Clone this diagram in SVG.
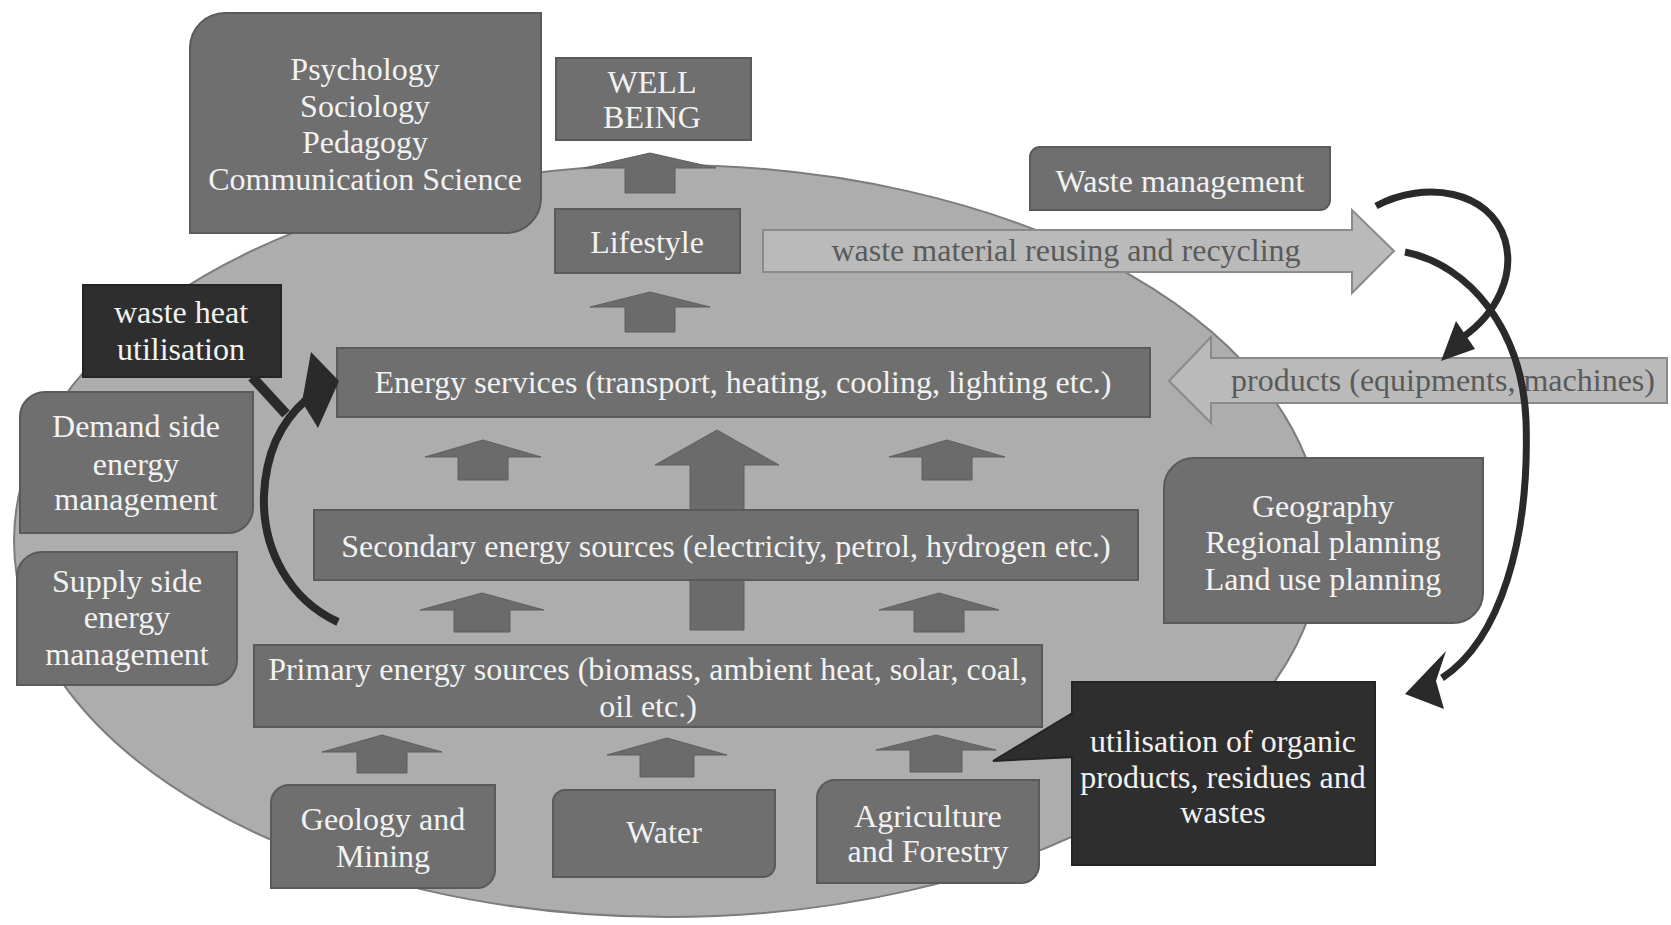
<svg xmlns="http://www.w3.org/2000/svg" width="1671" height="925" viewBox="0 0 1671 925">
<style>
.box{fill:#6f6f6f;stroke:#5a5a5a;stroke-width:2}
.dark{fill:#2e2e2e;stroke:#242424;stroke-width:2}
.blk{fill:#6b6b6b;stroke:#5f5f5f;stroke-width:1}
.light{fill:#bababa;stroke:#8a8a8a;stroke-width:2}
.t{font-family:"Liberation Serif","Times New Roman",serif;font-size:32px;fill:#f2f2f2;text-anchor:middle}
.td{fill:#5a5a5a}
.cv{fill:none;stroke:#2a2a2a;stroke-linecap:butt}
.hd{fill:#2a2a2a}
</style>
<rect width="1671" height="925" fill="#ffffff"/>
<ellipse id="context" cx="668" cy="541" rx="654" ry="376" fill="#adadad" stroke="#7c7c7c" stroke-width="2"/>

<g id="flow-arrows">
<polygon class="blk" points="650,153 716,168 675,168 675,193 625,193 625,168 584,168"/>
<polygon class="blk" points="650,292 710,307 675,307 675,332 625,332 625,307 590,307"/>
<polygon class="blk" points="483,440 541,457 508,457 508,480 458,480 458,457 425,457"/>
<polygon class="blk" points="717,430 779,465 744,465 744,630 690,630 690,465 655,465"/>
<polygon class="blk" points="947,440 1005,457 972,457 972,480 922,480 922,457 889,457"/>
<polygon class="blk" points="482,593 544,610 510,610 510,632 454,632 454,610 420,610"/>
<polygon class="blk" points="939,593 999,610 964,610 964,632 914,632 914,610 879,610"/>
<polygon class="blk" points="382,735 442,752 407,752 407,773 357,773 357,752 322,752"/>
<polygon class="blk" points="667,738 727,755 694,755 694,777 640,777 640,755 607,755"/>
<polygon class="blk" points="936,735 996,750 962,750 962,772 910,772 910,750 876,750"/>
</g>

<g id="psychology">
<path class="box" d="M225,13 H541 V198 A35,35 0 0 1 506,233 H190 V48 A35,35 0 0 1 225,13 Z"/>
<text class="t" x="365" y="80">Psychology</text>
<text class="t" x="365" y="117">Sociology</text>
<text class="t" x="365" y="153">Pedagogy</text>
<text class="t" x="365" y="190">Communication Science</text>
</g>

<g id="wellbeing">
<rect class="box" x="556" y="58" width="195" height="82"/>
<text class="t" x="652" y="93">WELL</text>
<text class="t" x="652" y="128">BEING</text>
</g>

<g id="lifestyle">
<rect class="box" x="555" y="209" width="185" height="64"/>
<text class="t" x="647" y="253">Lifestyle</text>
</g>

<g id="waste-management">
<path class="box" d="M1040,147 H1330 V200 A10,10 0 0 1 1320,210 H1030 V157 A10,10 0 0 1 1040,147 Z"/>
<text class="t" x="1180" y="192">Waste management</text>
</g>

<g id="waste-material">
<polygon class="light" points="763,230 1352,230 1352,210 1394,251 1352,293 1352,272 763,272"/>
<text class="t td" x="1066" y="261">waste material reusing and recycling</text>
</g>

<g id="products">
<polygon class="light" points="1169,381 1211,337 1211,358 1667,358 1667,403 1211,403 1211,423"/>
<text class="t td" x="1443" y="391">products (equipments, machines)</text>
</g>

<g id="waste-heat">
<rect class="dark" x="83" y="285" width="198" height="92"/>
<text class="t" x="181" y="323">waste heat</text>
<text class="t" x="181" y="360">utilisation</text>
</g>

<g id="demand-side">
<path class="box" d="M45,392 H253 V508 A25,25 0 0 1 228,533 H20 V417 A25,25 0 0 1 45,392 Z"/>
<text class="t" x="136" y="437">Demand side</text>
<text class="t" x="136" y="475">energy</text>
<text class="t" x="136" y="510">management</text>
</g>

<g id="supply-side">
<path class="box" d="M42,552 H237 V660 A25,25 0 0 1 212,685 H17 V577 A25,25 0 0 1 42,552 Z"/>
<text class="t" x="127" y="592">Supply side</text>
<text class="t" x="127" y="628">energy</text>
<text class="t" x="127" y="665">management</text>
</g>

<g id="energy-services">
<rect class="box" x="337" y="348" width="813" height="69"/>
<text class="t" x="743" y="393">Energy services (transport, heating, cooling, lighting etc.)</text>
</g>

<g id="secondary">
<rect class="box" x="314" y="510" width="824" height="70"/>
<text class="t" x="726" y="557">Secondary energy sources (electricity, petrol, hydrogen etc.)</text>
</g>

<g id="primary">
<rect class="box" x="254" y="645" width="788" height="82"/>
<text class="t" x="648" y="680">Primary energy sources (biomass, ambient heat, solar, coal,</text>
<text class="t" x="648" y="717">oil etc.)</text>
</g>

<g id="geography">
<path class="box" d="M1194,458 H1483 V593 A30,30 0 0 1 1453,623 H1164 V488 A30,30 0 0 1 1194,458 Z"/>
<text class="t" x="1323" y="517">Geography</text>
<text class="t" x="1323" y="553">Regional planning</text>
<text class="t" x="1323" y="590">Land use planning</text>
</g>

<g id="geology">
<path class="box" d="M289,785 H495 V870 A18,18 0 0 1 477,888 H271 V803 A18,18 0 0 1 289,785 Z"/>
<text class="t" x="383" y="830">Geology and</text>
<text class="t" x="383" y="867">Mining</text>
</g>

<g id="water">
<path class="box" d="M565,790 H775 V865 A12,12 0 0 1 763,877 H553 V802 A12,12 0 0 1 565,790 Z"/>
<text class="t" x="664" y="843">Water</text>
</g>

<g id="agriculture">
<path class="box" d="M835,780 H1039 V865 A18,18 0 0 1 1021,883 H817 V798 A18,18 0 0 1 835,780 Z"/>
<text class="t" x="928" y="827">Agriculture</text>
<text class="t" x="928" y="862">and Forestry</text>
</g>

<g id="organic-utilisation">
<polygon class="dark" points="1074,712 993,761 1074,757"/>
<rect class="dark" x="1072" y="682" width="303" height="183"/>
<polygon fill="#2e2e2e" points="1076,713 998,759 1076,755"/>
<text class="t" x="1223" y="752">utilisation of organic</text>
<text class="t" x="1223" y="788">products, residues and</text>
<text class="t" x="1223" y="823">wastes</text>
</g>

<g id="connectors">
<path class="cv" stroke-width="8" d="M338,622 C290,600 262,550 264,495 C266,450 283,420 306,400"/>
<line class="cv" stroke-width="10" x1="252" y1="377" x2="286" y2="414"/>
<polygon class="hd" points="311,352 339,381 318,428 302,402"/>
<path class="cv" stroke-width="7" d="M1376,206 C1425,180 1490,190 1505,240 C1515,275 1497,313 1463,337"/>
<polygon class="hd" points="1456,321 1475,349 1441,361"/>
<path class="cv" stroke-width="7" d="M1405,252 C1470,265 1522,330 1526,420 C1530,540 1500,640 1442,678"/>
<polygon class="hd" points="1446,651 1405,694 1444,709 1436,681"/>
</g>
</svg>
